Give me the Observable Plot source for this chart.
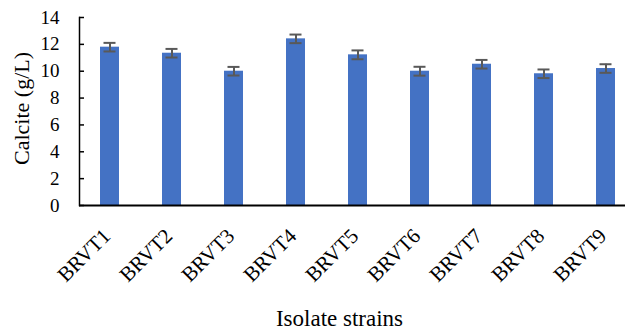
<!DOCTYPE html>
<html>
<head>
<meta charset="utf-8">
<script src="https://cdn.jsdelivr.net/npm/d3@7"></script>
<script src="https://cdn.jsdelivr.net/npm/@observablehq/plot@0.6"></script>
<style>
  html, body { margin: 0; padding: 0; background: #fff; }
  #chart svg { display: block; }
  #chart svg, #chart svg text, #chart svg g { font-family: 'Liberation Serif', 'Times New Roman', serif !important; }
</style>
</head>
<body>
<div id="chart"></div>
<script>
const strains = ["BRVT1", "BRVT2", "BRVT3", "BRVT4", "BRVT5", "BRVT6", "BRVT7", "BRVT8", "BRVT9"];
const calcite = [11.79, 11.34, 10.0, 12.41, 11.22, 10.0, 10.52, 9.81, 10.2];
const errors = [0.32, 0.32, 0.32, 0.32, 0.33, 0.33, 0.32, 0.32, 0.32];
const yTicks = [0, 2, 4, 6, 8, 10, 12, 14];

const data = strains.map((s, i) => ({strain: s, value: calcite[i], err: errors[i]}));
const serif = "'Liberation Serif', 'Times New Roman', serif";

const chart = Plot.plot({
  width: 625,
  height: 332,
  marginLeft: 79,
  marginRight: 0,
  marginTop: 17,
  marginBottom: 127,
  style: "font-family: 'Liberation Serif', 'Times New Roman', serif; background: #fff; color: #000;",
  x: {domain: strains, range: [79, 637], paddingInner: 0.69, paddingOuter: 0.345, align: 0.5, axis: null},
  y: {domain: [0, 14], axis: null},
  marks: [
    Plot.barY(data, {x: "strain", y: "value", fill: "#4472C4"}),
    Plot.ruleX(data, {x: "strain", y1: d => d.value - d.err, y2: d => d.value + d.err, stroke: "#595959", strokeWidth: 2}),
    Plot.tickY(data, {x: "strain", y: d => d.value - d.err, stroke: "#595959", strokeWidth: 2, insetLeft: 3.5, insetRight: 3.5}),
    Plot.tickY(data, {x: "strain", y: d => d.value + d.err, stroke: "#595959", strokeWidth: 2, insetLeft: 3.5, insetRight: 3.5}),
    Plot.frame({anchor: "left", stroke: "#000", strokeWidth: 1.5}),
    Plot.ruleY(yTicks, {stroke: "#000", strokeWidth: 1.5, insetRight: 625 - 79 - 5}),
    Plot.ruleY([0], {stroke: "#000", strokeWidth: 2}),
    Plot.axisY({ticks: yTicks, tickSize: 0, tickPadding: 20, fontSize: 19, fontFamily: serif, tickFormat: d => String(d), label: null}),
    Plot.text(strains, {x: d => d, frameAnchor: "bottom", rotate: -45, textAnchor: "end", lineAnchor: "middle", dy: 27, dx: -3, fontSize: 21, fontFamily: serif}),
    Plot.text(["Calcite (g/L)"], {frameAnchor: "left", rotate: -90, textAnchor: "middle", lineAnchor: "middle", dx: -58, dy: -3, fontSize: 22, fontFamily: serif}),
    Plot.text(["Isolate strains"], {frameAnchor: "bottom", textAnchor: "middle", lineAnchor: "middle", dx: -13, dy: 113, fontSize: 23, fontFamily: serif})
  ]
});

document.getElementById("chart").appendChild(chart);
</script>
</body>
</html>
